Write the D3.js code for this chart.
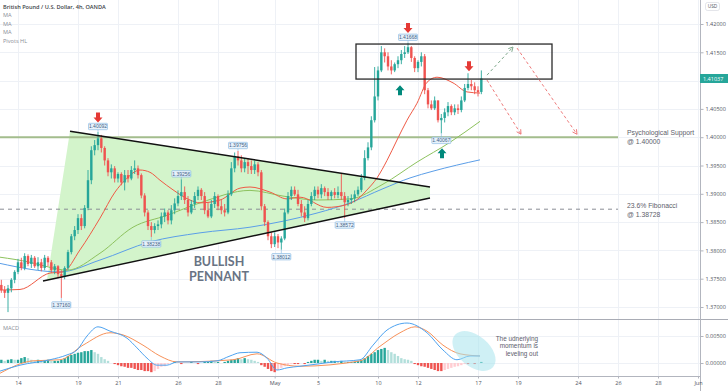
<!DOCTYPE html>
<html><head><meta charset="utf-8">
<script src="https://cdn.jsdelivr.net/npm/d3@7"></script>
<style>body{margin:0;background:#fff;}svg{display:block;font-family:'Open Sans',sans-serif;}</style>
</head><body><svg id="c" width="728" height="391"></svg>
<script>
// ---------------- DATA ----------------
const startIdx = -5;              // bar index of first candle (bar 0 = first 4h bar of Apr 14)
const firstOpen = 1.3739;
const closes = [1.3730,1.3725,1.3733,1.3748,1.3762,1.3779,1.3769,1.3790,1.3776,1.3787,1.3772,1.3779,1.3769,1.3787,1.3779,1.3765,1.3772,1.3758,1.3754,1.3769,
1.3797,1.3825,1.3836,1.3857,1.3843,1.3875,1.3924,1.3977,1.3986,1.3998,1.3981,1.3959,1.3938,1.3945,1.3927,1.3935,1.3920,1.3933,1.3927,1.3942,
1.3945,1.3933,1.3897,1.3867,1.3843,1.3836,1.3843,1.3846,1.3860,1.3867,1.3853,1.3871,1.3883,1.3896,1.3903,1.3889,1.3867,1.3882,1.3896,1.3907,
1.3896,1.3871,1.3860,1.3882,1.3896,1.3878,1.3871,1.3867,1.3899,1.3945,1.3966,1.3959,1.3945,1.3956,1.3949,1.3942,1.3952,1.3938,1.3878,1.3850,
1.3825,1.3811,1.3825,1.3814,1.3821,1.3867,1.3896,1.3907,1.3899,1.3882,1.3867,1.3857,1.3882,1.3896,1.3907,1.3899,1.3910,1.3903,1.3896,1.3903,
1.3898,1.3903,1.3896,1.3885,1.3889,1.3892,1.3899,1.3907,1.3928,1.3963,1.3982,1.4030,1.4072,1.4118,1.4150,1.4143,1.4125,1.4118,1.4129,1.4136,
1.4147,1.4150,1.4159,1.4140,1.4122,1.4133,1.4143,1.4083,1.4058,1.4051,1.4065,1.4030,1.4034,1.4044,1.4055,1.4044,1.4051,1.4048,1.4065,1.4087,
1.4094,1.4090,1.4083,1.4080,1.41037];
const highs = [1.3748,1.3737,1.3739,1.3751,1.3765,1.3785,1.3787,1.3795,1.3793,1.3792,1.3790,1.3788,1.3785,1.3792,1.3790,1.3783,1.3776,1.3774,1.3765,1.3772,
1.3801,1.3829,1.3843,1.3864,1.3864,1.3880,1.3942,1.3984,1.3995,1.40092,1.4004,1.3984,1.3963,1.3952,1.3949,1.3938,1.3938,1.3942,1.3942,1.3949,
1.3959,1.3950,1.3936,1.3901,1.3871,1.3850,1.3848,1.3853,1.3867,1.3874,1.3871,1.3880,1.3892,1.3906,1.39256,1.3913,1.3896,1.3889,1.3903,1.3913,
1.3910,1.3903,1.3885,1.3889,1.3903,1.3899,1.3889,1.3882,1.3906,1.3956,1.3973,1.39756,1.3968,1.3963,1.3963,1.3959,1.3959,1.3956,1.3942,1.3882,
1.3853,1.3832,1.3832,1.3829,1.3825,1.3874,1.3903,1.3913,1.3913,1.3907,1.3889,1.3878,1.3889,1.3903,1.3913,1.3913,1.3917,1.3913,1.3910,1.3906,
1.3910,1.3913,1.3935,1.3903,1.3896,1.3899,1.3906,1.3913,1.3935,1.3977,1.3991,1.4037,1.4124,1.4125,1.4161,1.4157,1.4150,1.4136,1.4132,1.4143,
1.4154,1.4161,1.41668,1.4161,1.4143,1.4136,1.4150,1.4147,1.4087,1.4065,1.4072,1.4065,1.4041,1.4051,1.4062,1.4058,1.4058,1.4058,1.4072,1.4094,
1.4113,1.4101,1.4097,1.4090,1.4118];
const lows = [1.3725,1.3716,1.3691,1.3726,1.3742,1.3758,1.3765,1.3765,1.3772,1.3769,1.3769,1.3765,1.3763,1.3765,1.3772,1.3760,1.3758,1.3751,1.37160,1.3749,
1.3765,1.3793,1.3818,1.3829,1.3836,1.3839,1.3871,1.3917,1.3968,1.3977,1.3973,1.3950,1.3931,1.3927,1.3920,1.3920,1.3915,1.3906,1.3920,1.3924,
1.3935,1.3927,1.3892,1.3860,1.3836,1.38238,1.3830,1.3836,1.3839,1.3850,1.3846,1.3846,1.3864,1.3878,1.3889,1.3882,1.3860,1.3864,1.3875,1.3889,
1.3889,1.3864,1.3857,1.3857,1.3875,1.3871,1.3864,1.3860,1.3864,1.3896,1.3938,1.3950,1.3938,1.3938,1.3935,1.3935,1.3935,1.3931,1.3871,1.3843,
1.3818,1.3804,1.3806,1.3804,1.38012,1.3818,1.3864,1.3889,1.3896,1.3878,1.3860,1.3850,1.3853,1.3878,1.3889,1.3892,1.3892,1.3896,1.3889,1.3889,
1.3892,1.3892,1.3889,1.38572,1.3878,1.3882,1.3885,1.3896,1.3903,1.3924,1.3959,1.3977,1.4026,1.4065,1.4115,1.4132,1.4118,1.4111,1.4115,1.4122,
1.4129,1.4140,1.4147,1.4133,1.4115,1.4115,1.4125,1.4076,1.4051,1.4048,1.4048,1.4026,1.40067,1.4026,1.4037,1.4039,1.4039,1.4041,1.4044,1.4062,
1.4083,1.4083,1.4076,1.4072,1.4076];

// moving averages as [bar index, price]
const maFast = [[-5.4,1.3730],[0.6,1.3731],[9.6,1.3760],[13.5,1.3762],[18.6,1.3801],[24.6,1.3857],[29.1,1.3903],[32.1,1.3924],[36.6,1.3942],[39.6,1.3938],[42.6,1.3924],[46.5,1.3907],[51.6,1.3889],[54.6,1.3884],[60.6,1.3889],[66.6,1.3910],[69.6,1.3912],[75.6,1.3903],[80.7,1.3891],[84.6,1.3894],[92.7,1.3876],[98.1,1.3880],[102.6,1.3894],[104.4,1.3905],[107.7,1.3928],[110.7,1.3959],[113.7,1.3995],[116.7,1.4030],[119.7,1.4060],[122.7,1.4097],[125.7,1.4106],[130.5,1.4096],[134.7,1.4080],[138.6,1.4078]];
const maMid = [[-5.4,1.3788],[3.6,1.3779],[9.6,1.3770],[14.7,1.3765],[24.6,1.3795],[34.5,1.3841],[44.7,1.3862],[54.6,1.3884],[69.6,1.3906],[79.5,1.3896],[89.7,1.3889],[99.6,1.3891],[109.5,1.3917],[119.7,1.3956],[129.6,1.3991],[138.6,1.4028]];
const maSlow = [[-5.4,1.3777],[12.6,1.3762],[24.6,1.3783],[39.6,1.3815],[54.6,1.3831],[69.6,1.3841],[89.7,1.3866],[99.6,1.3884],[109.5,1.3909],[117.6,1.3928],[124.5,1.3940],[138.6,1.3960]];

// MACD
const macdLine = [[-5.4,-0.0015],[0.6,-0.0004],[9.6,0.0006],[14.7,0.0015],[17.7,0.0024],[20.7,0.0050],[24,0.0067],[27.6,0.0059],[32.7,0.0046],[35.7,0.0028],[38.7,0.0009],[41.7,-0.0004],[44.7,-0.0004],[47.7,0.0002],[54.6,0.0002],[59.7,0.0004],[63.6,0.0013],[66.6,0.0019],[71.7,0.0020],[74.7,0.0009],[77.7,-0.0013],[80.7,-0.0009],[84.6,-0.0006],[89.7,-0.0002],[94.5,0.0002],[102.6,0.0006],[106.5,0.0033],[110.7,0.0061],[116.7,0.0074],[122.7,0.0056],[127.5,0.0024],[131.7,0.0006],[135.6,0.0013],[138.6,0.0013]];
const signalLine = [[-5.4,-0.0019],[4.5,0.0004],[12.6,0.0006],[19.5,0.0033],[27.6,0.0056],[31.5,0.0052],[37.5,0.0033],[42.6,0.0013],[47.7,0.0002],[64.5,0.0006],[71.7,0.0017],[77.7,0.0000],[84.6,-0.0006],[102.6,0.0004],[108.6,0.0031],[114.6,0.0056],[119.1,0.0067],[122.7,0.0059],[127.5,0.0033],[132.6,0.0017],[138.6,0.0013]];
const macdHist = [0.0006,0.0004,0.0006,0.0007,0.0006,0.0006, 0.0009,0.0011,0.0009, 0.0006,0.0004,0.0006,0.0004,0.0004,0.0006,0.0004,0.0004,0.0004,
0.0006,0.0009,0.0013,0.0015,0.0017, 0.0019,0.0020,0.0022,0.0022,0.0024, 0.0020,0.0017,0.0011,0.0007,0.0004, 0,
-0.0002,-0.0004,-0.0006,-0.0007,-0.0009,-0.0009, -0.0011,-0.0013,-0.0013,-0.0015,-0.0015,-0.0017, -0.0015,-0.0011,-0.0007,-0.0006,-0.0002,
0,0.0002,0,-0.0002,0,0,0.0002,0,-0.0002,0,0.0002, 0.0002,0.0004, 0.0002,0.0002,0,0.0002, 0.0004,0.0006,0.0007,0.0009,0.0007,0.0009,
0.0007,0.0006,0.0004,0.0002, -0.0004, -0.0007,-0.0011,-0.0015,-0.0017, -0.0013,-0.0009,-0.0006,-0.0004, -0.0002,-0.0002,-0.0002,0,-0.0002,
0.0002,0.0004,0.0006,0.0006,0.0004,0.0006,0.0004, 0.0004,0.0004,0.0002,0.0004,0.0002,0.0002,0.0002,0.0002,0.0004,
0.0006,0.0009,0.0013,0.0017,0.0020,0.0024,0.0026,0.0028, 0.0024,0.0020,0.0017,0.0013,0.0009,0.0007,0.0006,0.0004,
-0.0002,-0.0004,-0.0006,-0.0007,-0.0009,-0.0011,-0.0013,-0.0015,-0.0015, -0.0013,-0.0011,-0.0009,-0.0007,-0.0006,-0.0004,-0.0002,-0.0002,
0,-0.0002,0,0.0002];

// pivots
const pivotIdx = [13,24,40,49,66,79,98,117,127];
const pivotPrice = [1.37160,1.40092,1.38238,1.39256,1.39756,1.38012,1.38572,1.41668,1.40067];
const pivotType = ['L','H','L','H','H','L','L','H','L'];

// axes
const priceTicks = [1.37,1.375,1.38,1.385,1.39,1.395,1.40,1.405,1.41,1.415,1.42];
const macdTicks = [0,0.005];
const dateTickIdx = [0,18,30,48,60,77,90,108,120,138,150,168,180,192,204];
const dateLabels = ['14','19','21','26','28','May','5','10','12','17','19','24','26','28','Jun'];
const lastPrice = 1.41037;

// drawings
const supportLevel = 1.40000, fibLevel = 1.38728, levelEndIdx = 180;
const pennantPoly = [[15.6,1.40105],[123.6,1.39120],[123.6,1.38926],[8.7,1.37476]];
const pennantTop = [[15.6,1.40105],[123.6,1.39120]];
const pennantBottom = [[7.5,1.37459],[123.6,1.38926]];
const boxZone = {i0:101.4, i1:160.2, p0:1.41646, p1:1.41027};
const pathUp = [[140.7,1.41097],[148.5,1.41593]];
const pathDown1 = [[140.7,1.41009],[150.9,1.40053]];
const pathDown2 = [[149.7,1.41575],[167.7,1.40053]];
const downArrows = [[24,1.4035],[117,1.4193],[135.3,1.41254]];
const upArrows = [[114.6,1.4083],[127.2,1.39717]];

// ---------------- CHART ----------------
const svg = d3.select('#c');
const x = d3.scaleLinear().domain([-5.4,204.6]).range([0,700]);
const y = d3.scaleLinear().domain([1.37,1.42]).range([307,24]);
const ym = d3.scaleLinear().domain([0,0.005]).range([363,336]);
const gridC = '#eef1f6', txtC = '#50535e';
const annFont = "'Liberation Sans', Arial, sans-serif";

const defs = svg.append('defs');
defs.append('clipPath').attr('id','cm').append('rect').attr('x',0).attr('y',0).attr('width',700).attr('height',319);
defs.append('clipPath').attr('id','cd').append('rect').attr('x',0).attr('y',320).attr('width',700).attr('height',56);

// grid
const g = svg.append('g');
g.selectAll('.hg').data(priceTicks).join('line').attr('x1',0).attr('x2',700)
  .attr('y1',d=>Math.round(y(d))+0.5).attr('y2',d=>Math.round(y(d))+0.5).attr('stroke',gridC);
g.selectAll('.mg').data(macdTicks).join('line').attr('x1',0).attr('x2',700)
  .attr('y1',d=>Math.round(ym(d))+0.5).attr('y2',d=>Math.round(ym(d))+0.5).attr('stroke',gridC);
g.selectAll('.vg').data(dateTickIdx).join('line').attr('y1',0).attr('y2',376)
  .attr('x1',d=>Math.round(x(d))+0.5).attr('x2',d=>Math.round(x(d))+0.5).attr('stroke',gridC);

const main = svg.append('g').attr('clip-path','url(#cm)');
const P = d => [x(d[0]), y(d[1])];

// pennant fill
main.append('path').attr('d', d3.line()(pennantPoly.map(P)) + 'Z').attr('fill','#d3f4cb');

// levels
main.append('line').attr('x1',0).attr('x2',x(levelEndIdx)).attr('y1',y(supportLevel)).attr('y2',y(supportLevel))
  .attr('stroke','#a3bd8d').attr('stroke-width',2);
main.append('line').attr('x1',0).attr('x2',x(levelEndIdx)).attr('y1',y(fibLevel)).attr('y2',y(fibLevel))
  .attr('stroke','#8a8d96').attr('stroke-width',1).attr('stroke-dasharray','4,4');

// moving averages
const mline = d3.line().x(d=>x(d[0])).y(d=>y(d[1])).curve(d3.curveMonotoneX);
main.append('path').attr('d',mline(maSlow)).attr('fill','none').attr('stroke','#5b9ee8').attr('stroke-width',1);
main.append('path').attr('d',mline(maMid)).attr('fill','none').attr('stroke','#8dc25e').attr('stroke-width',1);
main.append('path').attr('d',mline(maFast)).attr('fill','none').attr('stroke','#ef5a45').attr('stroke-width',1);

// candles
const bars = closes.map((c,k)=>({i:k+startIdx, o:k?closes[k-1]:firstOpen, h:highs[k], l:lows[k], c}));
const up='#26a69a', dn='#ef5350';
const cg = main.append('g');
cg.selectAll('line').data(bars).join('line')
  .attr('x1',d=>x(d.i)).attr('x2',d=>x(d.i))
  .attr('y1',d=>y(Math.max(d.h,d.o,d.c))).attr('y2',d=>y(Math.min(d.l,d.o,d.c)))
  .attr('stroke',d=>d.c>=d.o?up:dn).attr('stroke-width',0.9);
cg.selectAll('rect').data(bars).join('rect')
  .attr('x',d=>x(d.i)-1.2).attr('width',2.4)
  .attr('y',d=>Math.min(y(d.o),y(d.c))).attr('height',d=>Math.max(0.8,Math.abs(y(d.o)-y(d.c))))
  .attr('fill',d=>d.c>=d.o?up:dn);

// pennant lines
main.append('line').attr('x1',x(pennantTop[0][0])).attr('y1',y(pennantTop[0][1])).attr('x2',x(pennantTop[1][0])).attr('y2',y(pennantTop[1][1]))
  .attr('stroke','#111').attr('stroke-width',1.4);
main.append('line').attr('x1',x(pennantBottom[0][0])).attr('y1',y(pennantBottom[0][1])).attr('x2',x(pennantBottom[1][0])).attr('y2',y(pennantBottom[1][1]))
  .attr('stroke','#111').attr('stroke-width',1.4);

// box
main.append('rect').attr('x',x(boxZone.i0)).attr('y',y(boxZone.p0))
  .attr('width',x(boxZone.i1)-x(boxZone.i0)).attr('height',y(boxZone.p1)-y(boxZone.p0))
  .attr('fill','none').attr('stroke','#2a2a2a').attr('stroke-width',1.3);

// dashed projected paths
function dashArrow(pts,color){
  const [a,b]=pts.map(P);
  main.append('line').attr('x1',a[0]).attr('y1',a[1]).attr('x2',b[0]).attr('y2',b[1])
    .attr('stroke',color).attr('stroke-width',1).attr('stroke-dasharray','3,2.5');
  const ang=Math.atan2(b[1]-a[1],b[0]-a[0]), L=5;
  [-0.5,0.5].forEach(s=>{
    main.append('line').attr('x1',b[0]).attr('y1',b[1])
      .attr('x2',b[0]-L*Math.cos(ang+s)).attr('y2',b[1]-L*Math.sin(ang+s))
      .attr('stroke',color).attr('stroke-width',1);
  });
}
dashArrow(pathUp,'#7fa98c');
dashArrow(pathDown1,'#ee7b7b');
dashArrow(pathDown2,'#ee7b7b');

// block arrows
function blockArrow(cx,cy,dir,color){
  const s = dir; // 1 = down, -1 = up
  const pts=[[-2,-5*s],[2,-5*s],[2,0],[4.5,0],[0,5*s],[-4.5,0],[-2,0]].map(p=>[cx+p[0],cy+p[1]]);
  main.append('path').attr('d',d3.line()(pts)+'Z').attr('fill',color);
}
downArrows.forEach(d=>blockArrow(x(d[0]),y(d[1]),1,'#e53935'));
upArrows.forEach(d=>blockArrow(x(d[0]),y(d[1]),-1,'#00897b'));

// pivot labels
pivotIdx.forEach((idx,k)=>{
  const px=x(idx), py=y(pivotPrice[k]);
  const cy = pivotType[k]==='H' ? py-5.5 : py+7;
  main.append('line').attr('x1',px).attr('x2',px).attr('y1',py).attr('y2',pivotType[k]==='H'?cy+3:cy-3)
    .attr('stroke','#7fb3e0').attr('stroke-width',0.6);
  main.append('rect').attr('x',px-9.5).attr('y',cy-3.2).attr('width',19).attr('height',6.4)
    .attr('fill','#e8f2fb').attr('stroke','#7fb3e0').attr('stroke-width',0.6).attr('rx',0.8);
  main.append('text').attr('x',px).attr('y',cy+1.8).attr('text-anchor','middle').attr('font-family',annFont)
    .attr('font-size',5).attr('fill','#3e5f86').text(d3.format('.5f')(pivotPrice[k]));
});

// pennant title
const pt = main.append('g').attr('text-anchor','middle').attr('font-family','Lato')
  .attr('font-weight',700).attr('font-size',12.5).attr('fill','#687384');
pt.append('text').attr('x',219).attr('y',266).text('BULLISH');
pt.append('text').attr('x',219).attr('y',281.3).text('PENNANT');

// level labels
const ann = svg.append('g').attr('font-size',6.8).attr('fill','#5d606b').attr('font-family',annFont);
ann.append('text').attr('x',627).attr('y',y(supportLevel)-2).text('Psychological Support');
ann.append('text').attr('x',627).attr('y',y(supportLevel)+7).text('@ 1.40000');
ann.append('text').attr('x',627).attr('y',y(fibLevel)-1).text('23.6% Fibonacci');
ann.append('text').attr('x',627).attr('y',y(fibLevel)+8).text('@ 1.38728');

// MACD pane
const mp = svg.append('g').attr('clip-path','url(#cd)');
mp.selectAll('rect').data(macdHist).join('rect')
  .attr('x',(d,k)=>x(k+startIdx)-1.2).attr('width',2.4)
  .attr('y',d=>Math.min(ym(d),ym(0))).attr('height',d=>Math.abs(ym(d)-ym(0)))
  .attr('fill',(d,k)=>{const p=k?macdHist[k-1]:0; return d>=0?(d>=p?'#26a69a':'#b2dfdb'):(d<=p?'#ef5350':'#ffcdd2');});
const mdl = d3.line().x(d=>x(d[0])).y(d=>ym(d[1])).curve(d3.curveMonotoneX);
mp.append('path').attr('d',mdl(signalLine)).attr('fill','none').attr('stroke','#f7925a').attr('stroke-width',1);
mp.append('path').attr('d',mdl(macdLine)).attr('fill','none').attr('stroke','#4ea3f0').attr('stroke-width',1);
mp.append('ellipse').attr('cx',474).attr('cy',351).attr('rx',25).attr('ry',15.4)
  .attr('transform','rotate(40,474,351)').attr('fill','#a7e3ec').attr('opacity',0.55);
const mt = svg.append('g').attr('font-size',6.4).attr('fill','#5d606b').attr('text-anchor','end').attr('font-family',annFont);
mt.append('text').attr('x',538).attr('y',340.5).text('The udnerlying');
mt.append('text').attr('x',538).attr('y',348).text('momentum is');
mt.append('text').attr('x',538).attr('y',355.5).text('leveling out');

// frame lines
svg.append('line').attr('x1',0).attr('x2',728).attr('y1',319.5).attr('y2',319.5).attr('stroke','#a9acb5');
svg.append('line').attr('x1',0).attr('x2',700).attr('y1',376.5).attr('y2',376.5).attr('stroke','#b2b5be');
svg.append('line').attr('x1',700.5).attr('x2',700.5).attr('y1',0).attr('y2',391).attr('stroke','#b2b5be');

// axes (the tick hidden behind the last-price tag is skipped)
const fmt = d3.format('.5f');
const axisTicks = priceTicks.filter(d=>Math.abs(y(d)-y(lastPrice))>8);
const ay = svg.append('g').attr('transform','translate(700.5,0)')
  .call(d3.axisRight(y).tickValues(axisTicks).tickFormat(fmt).tickSize(3).tickPadding(2));
const am = svg.append('g').attr('transform','translate(700.5,0)')
  .call(d3.axisRight(ym).tickValues(macdTicks).tickFormat(fmt).tickSize(3).tickPadding(2));
const ax = svg.append('g').attr('transform','translate(0,376.5)')
  .call(d3.axisBottom(x).tickValues(dateTickIdx).tickFormat((d,k)=>dateLabels[k]).tickSize(2).tickPadding(3));
[ay,am,ax].forEach(a=>{
  a.select('.domain').remove();
  a.selectAll('line').attr('stroke','#b2b5be');
  a.selectAll('text').attr('font-size',5.5).attr('fill',txtC).attr('font-family','Open Sans');
});

// last price label
svg.append('rect').attr('x',700).attr('y',y(lastPrice)-4.5).attr('width',28).attr('height',9).attr('fill','#26a69a');
svg.append('text').attr('x',703).attr('y',y(lastPrice)+2).attr('font-size',5.5).attr('fill','#fff').text(fmt(lastPrice));

// USD tag
svg.append('rect').attr('x',705.5).attr('y',2.5).attr('width',14).attr('height',8).attr('rx',2).attr('fill','#fff').attr('stroke','#d1d4dc').attr('stroke-width',0.6);
svg.append('text').attr('x',712.5).attr('y',8.3).attr('text-anchor','middle').attr('font-size',4.8).attr('fill',txtC).text('USD');

// legend
const lg = svg.append('g').attr('font-size',5.6).attr('fill','#8a8d96');
lg.append('text').attr('x',3).attr('y',9).attr('font-weight',600).attr('fill','#3c3f48').text('British Pound / U.S. Dollar, 4h, OANDA');
['MA','MA','MA','Pivots HL'].forEach((t,k)=>lg.append('text').attr('x',3).attr('y',17.3+k*8.4).text(t));
svg.append('text').attr('x',3).attr('y',329.5).attr('font-size',5.6).attr('fill','#8a8d96').text('MACD');
</script></body></html>
